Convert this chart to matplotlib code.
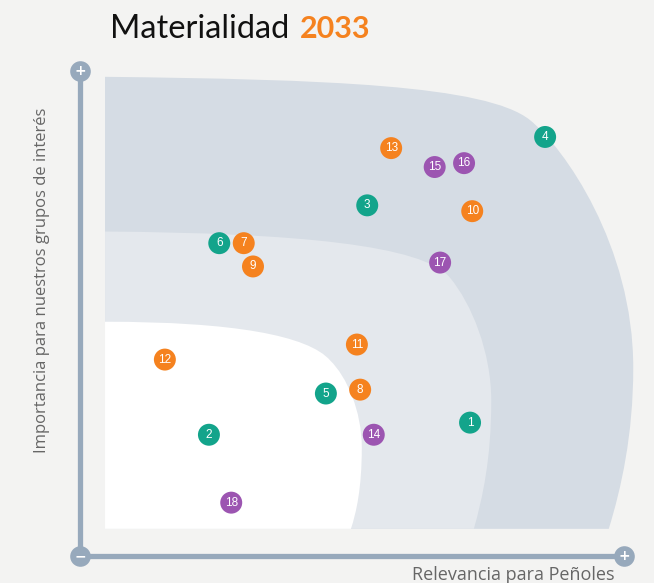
import matplotlib
matplotlib.use("Agg")
from matplotlib import pyplot as plt
from matplotlib.path import Path
from matplotlib.patches import PathPatch

# issue number, x = relevancia para Peñoles, y = importancia grupos de interés (0-100)
temas = [1, 2, 3, 4, 5, 6, 7, 8, 9, 10, 11, 12, 13, 14, 15, 16, 17, 18]
relevancia = [71.7, 23.7, 52.8, 85.5, 45.2, 25.6, 30.1, 51.5, 31.8, 72.1, 50.9, 15.6, 57.2, 54.0, 65.2, 70.6, 66.2, 27.8]
importancia = [27.5, 25.0, 72.3, 86.4, 33.5, 64.5, 64.5, 34.3, 59.7, 71.1, 43.6, 40.5, 84.1, 25.0, 80.2, 81.0, 60.5, 11.0]
grupo = ["ambiental", "ambiental", "ambiental", "ambiental", "ambiental", "ambiental",
         "economico", "economico", "economico", "economico", "economico", "economico", "economico",
         "social", "social", "social", "social", "social"]

colores = {"ambiental": "#13a48b", "economico": "#f5821f", "social": "#9c55b1"}
fondo = "#f3f3f2"
eje = "#97a9bc"

fig = plt.figure(figsize=(6.54, 5.83), dpi=100, facecolor=fondo)
ax = fig.add_axes([80 / 654, 27 / 583, 544 / 654, 485 / 583])
ax.set_xlim(0, 100)
ax.set_ylim(0, 100)
ax.axis("off")

M, L, C = Path.MOVETO, Path.LINETO, Path.CURVE4

# zonas de materialidad (alta, media, baja)
zona_alta = [(4.6, 5.6), (4.6, 98.8),
             (45, 98.3), (74.7, 97.1), (82.7, 89.9),
             (89, 84.2), (101.7, 64), (101.7, 38.8),
             (101.7, 25), (99.5, 14), (97.2, 5.6), (4.6, 5.6)]
zona_media = [(4.6, 5.6), (4.6, 66.9),
              (40, 66.6), (63, 64.1), (68, 57.4),
              (72, 52), (75.6, 42), (75.6, 32),
              (75.6, 20), (74, 12), (72.4, 5.6), (4.6, 5.6)]
zona_baja = [(4.6, 5.6), (4.6, 48.3),
             (28, 48.3), (42, 45.5), (46, 40.3),
             (49, 37), (51.8, 30), (51.8, 22.3),
             (51.8, 14), (50.8, 9), (49.8, 5.6), (4.6, 5.6)]
codigos = [M, L, C, C, C, C, C, C, C, C, C, Path.CLOSEPOLY]

for verts, col in [(zona_alta, "#d5dce4"), (zona_media, "#e4e8ed"), (zona_baja, "#ffffff")]:
    ax.add_patch(PathPatch(Path(verts, codigos), facecolor=col, edgecolor="none", clip_on=False))

# ejes con extremos redondos
ax.plot([0, 0], [0, 100], color=eje, lw=3.8, solid_capstyle="butt", clip_on=False, zorder=3)
ax.plot([0, 100], [0, 0], color=eje, lw=3.8, solid_capstyle="butt", clip_on=False, zorder=3)
ax.scatter([0, 0, 100], [100, 0, 0], s=220, color=eje, clip_on=False, zorder=4, linewidths=0)
for xx, yy, sig in [(0, 100, "+"), (0, 0, "−"), (100, 0, "+")]:
    ax.text(xx, yy, sig, color="white", fontsize=10, fontweight="bold", ha="center", va="center",
            zorder=5, family="DejaVu Sans")

# temas
ax.scatter(relevancia, importancia, s=250, c=[colores[g] for g in grupo], linewidths=0, zorder=6, clip_on=False)
for n, xx, yy in zip(temas, relevancia, importancia):
    ax.text(xx, yy, str(n), color="white", fontsize=8.5, ha="center", va="center", zorder=7,
            family="Liberation Sans")

# textos
fig.text(110 / 654, 1 - 38 / 583, "Materialidad", fontsize=23.5, color="#111111", family="Lato",
         ha="left", va="baseline")
fig.text(300 / 654, 1 - 38 / 583, "2033", fontsize=22, color="#f5821f", family="Lato", fontweight="bold",
         ha="left", va="baseline")
fig.text(42 / 654, 1 - 280 / 583, "Importancia para nuestros grupos de interés", rotation=90,
         fontsize=12, color="#666666", family="Open Sans", ha="center", va="center")
fig.text(615 / 654, 1 - 580 / 583, "Relevancia para Peñoles", fontsize=13, color="#666666",
         family="Open Sans", ha="right", va="baseline")

fig.savefig("out.png", dpi=100, facecolor=fondo)
